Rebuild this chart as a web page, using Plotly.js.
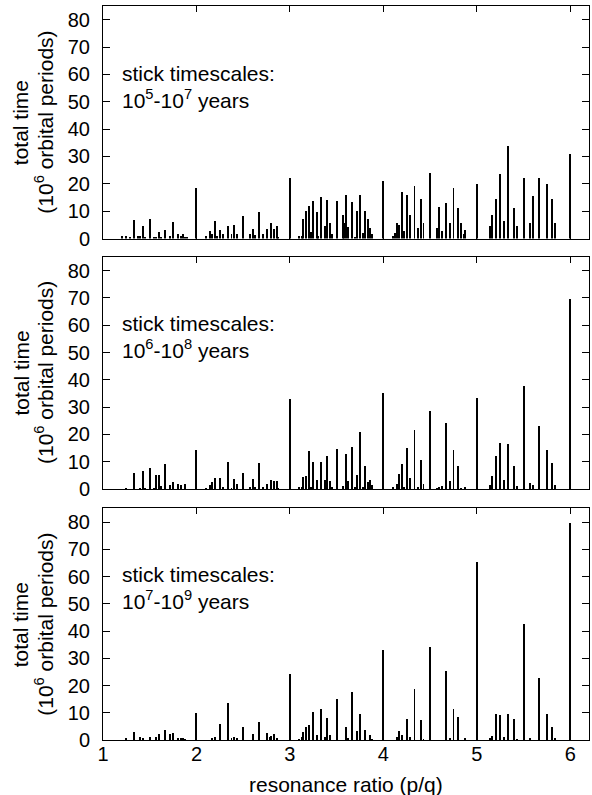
<!DOCTYPE html>
<html>
<head>
<meta charset="utf-8">
<script src="https://cdn.plot.ly/plotly-3.0.1.min.js"></script>
<style>html,body{margin:0;padding:0;background:#fff;}#chart{width:592px;height:795px;}</style>
</head>
<body>
<div id="chart"></div>
<script>
// resonance ratios p/q (grouped by integer interval)
const ratios = [
  1.2, 1.25, 1.286, 1.333, 1.375, 1.4, 1.429, 1.45, 1.5, 1.545, 1.571, 1.6, 1.625, 1.667, 1.714, 1.75, 1.8, 1.833, 1.857, 1.875, 1.9,
  2, 2.1, 2.143, 2.167, 2.2, 2.222, 2.25, 2.286, 2.333, 2.375, 2.4, 2.429, 2.5, 2.571, 2.6, 2.625, 2.667, 2.714, 2.75, 2.786, 2.8, 2.833, 2.857, 2.875,
  3, 3.1, 3.125, 3.143, 3.167, 3.2, 3.222, 3.25, 3.286, 3.3, 3.333, 3.375, 3.4, 3.429, 3.45, 3.5, 3.571, 3.583, 3.6, 3.625, 3.667, 3.7, 3.714, 3.75, 3.778, 3.8, 3.833, 3.857, 3.875,
  4, 4.1, 4.125, 4.143, 4.167, 4.2, 4.222, 4.25, 4.286, 4.333, 4.375, 4.4, 4.429, 4.5, 4.571, 4.6, 4.625, 4.667, 4.714, 4.75, 4.8, 4.833, 4.857, 4.875,
  5, 5.143, 5.167, 5.2, 5.25, 5.286, 5.333, 5.4, 5.429, 5.5, 5.571, 5.6, 5.667, 5.75, 5.8, 5.833, 6
];
// total time (10^6 orbital periods), stick timescales 10^5-10^7 years
const timeA = [
  0.9, 1.0, 0.4, 6.7, 0.8, 1.0, 4.5, 0.6, 7.3, 0.4, 0.5, 2.4, 0.5, 3.3, 0.8, 5.9, 1.8, 0.9, 1.6, 0.6, 0.4,
  18.4, 0.8, 2.7, 1.8, 6.3, 1.0, 3.0, 1.6, 4.5, 1.5, 4.9, 1.6, 8.2, 1.8, 3.5, 1.2, 9.6, 1.5, 3.5, 0, 5.7, 3.5, 4.5, 0.6,
  22, 0.8, 1.0, 7.0, 10, 12, 2.4, 13.7, 9.6, 0.8, 15.1, 4.5, 14, 5.5, 1.6, 13.9, 8.5, 5.5, 15.9, 4.1, 13.4, 0.6, 10, 15.9, 2.0, 10, 7.0, 4.0, 1.8,
  21, 1.0, 2.0, 5.5, 5.0, 17, 2.7, 15.9, 8.5, 19.3, 4.0, 14.5, 5.5, 24.1, 3.9, 11.5, 2.8, 13, 5.6, 18.5, 11.1, 5.5, 1.8, 3.0,
  19.9, 4.5, 8.5, 14.5, 23.5, 6.5, 33.9, 11.2, 4.5, 22, 5.7, 15.6, 22.2, 20.1, 14.4, 5.5, 30.9
];
// stick timescales 10^6-10^8 years
const timeB = [
  0, 0.5, 0, 6.0, 0, 0.4, 6.7, 0.4, 7.7, 0.4, 5.0, 5.2, 1.1, 9.1, 1.6, 2.4, 2.0, 1.3, 0, 1.8, 0,
  14.3, 0.3, 1.6, 2.6, 4.0, 0, 4.0, 0.6, 9.9, 0.5, 3.8, 2.0, 5.7, 0.6, 3.8, 0.6, 9.5, 0.6, 2.0, 0, 3.3, 2.8, 2.9, 0.5,
  32.9, 0.6, 0.6, 4.3, 4.8, 13.9, 0.6, 9.9, 3.3, 0, 9.9, 3.3, 12.1, 2.9, 0.8, 14.5, 1.1, 0, 12.7, 2.9, 15.5, 0.6, 5.1, 20.7, 0.9, 8.5, 2.4, 3.3, 1.5,
  35, 0.6, 0, 1.8, 5.4, 9.1, 0.6, 14.9, 4.0, 21.6, 0.6, 10.6, 1.7, 28.7, 0.5, 0.9, 1.0, 24, 3.1, 14.1, 8.6, 0.4, 0, 0.7,
  33.2, 1.6, 4.7, 12, 16.9, 3.2, 16.6, 8.6, 1.2, 37.9, 2.3, 1.3, 23, 14.4, 9.7, 1.5, 69.5
];
// stick timescales 10^7-10^9 years
const timeC = [
  0, 0.9, 0, 2.9, 0, 1.2, 0.6, 0, 1.1, 0, 1.2, 2.2, 0, 3.7, 2.1, 2.6, 0.9, 0.9, 0.6, 0.5, 0,
  10, 0, 0, 0.9, 1.1, 0, 6.0, 0, 13.5, 0.6, 1.2, 0.7, 4.6, 0, 2.1, 0, 6.5, 0, 2.6, 1.1, 1.5, 2.1, 0.6, 0,
  24.4, 0.5, 1.1, 2.9, 4.9, 5.4, 0, 10.4, 1.7, 0, 11.5, 1.2, 8.0, 2.0, 0, 14.9, 0, 0, 4.9, 0.6, 17.7, 0, 3.4, 9.4, 0, 3.5, 0, 2.0, 0.5,
  33.2, 0, 0, 1.2, 3.4, 2.0, 0, 7.6, 1.0, 18.9, 0, 7.2, 0.5, 34.2, 0, 0, 0, 25.5, 0.9, 11.3, 8.3, 0, 0, 0.6,
  65.2, 0.6, 1.6, 9.4, 9.1, 1.0, 9.4, 7.6, 0.3, 42.7, 0.6, 0, 22.6, 9.4, 4.8, 0.6, 79.6
];
const panelLabels = [
  'stick timescales:<br>10<sup>5</sup>-10<sup>7</sup> years',
  'stick timescales:<br>10<sup>6</sup>-10<sup>8</sup> years',
  'stick timescales:<br>10<sup>7</sup>-10<sup>9</sup> years'
];
const xTicks = [1, 2, 3, 4, 5, 6];
const yTicks = [0, 10, 20, 30, 40, 50, 60, 70, 80];
const yTitle1 = 'total time';
const yTitle2 = '(10<sup>6</sup> orbital periods)';
const xTitle = 'resonance ratio (p/q)';

const FONT = 'Liberation Sans, Arial, Helvetica, sans-serif';
const series = [timeA, timeB, timeC];
const axSuffix = ['', '2', '3'];
const traces = series.map((vals, i) => ({
  type: 'bar', x: ratios, y: vals,
  xaxis: 'x' + axSuffix[i], yaxis: 'y' + axSuffix[i],
  width: 0.021, marker: {color: '#000', line: {width: 0}},
  hoverinfo: 'x+y', showlegend: false
}));

const domains = [[0.6832, 1], [0.342, 0.658], [0, 0.3154]];
const layout = {
  width: 592, height: 795,
  margin: {l: 103, r: 3, t: 6, b: 55},
  paper_bgcolor: '#fff', plot_bgcolor: '#fff',
  font: {family: FONT, size: 20, color: '#000'},
  bargap: 0, showlegend: false,
  annotations: []
};
const labelY = [0.890, 0.5497, 0.2071];
const titleY = [0.841, 0.5, 0.157];
for (let i = 0; i < 3; i++) {
  const s = axSuffix[i];
  layout['xaxis' + s] = {
    domain: [0, 1], anchor: 'y' + s, range: [1, 6.2],
    tickvals: xTicks, ticktext: xTicks.map(String),
    showticklabels: i === 2,
    ticks: 'inside', ticklen: 6, tickwidth: 1, tickcolor: '#000',
    showline: true, linecolor: '#000', linewidth: 1, mirror: 'ticks',
    showgrid: false, zeroline: false, fixedrange: true,
    ticklabelstandoff: -4,
    tickfont: {family: FONT, size: 20}
  };
  layout['yaxis' + s] = {
    domain: domains[i], anchor: 'x' + s, range: [0, 85],
    tickvals: yTicks, ticktext: yTicks.map(String),
    ticks: 'inside', ticklen: 7, tickwidth: 1, tickcolor: '#000',
    showline: true, linecolor: '#000', linewidth: 1, mirror: 'ticks',
    showgrid: false, zeroline: false, fixedrange: true,
    ticklabelstandoff: 8,
    tickfont: {family: FONT, size: 20}
  };
  layout.annotations.push({
    xref: 'paper', yref: 'paper', x: 0.036, y: labelY[i],
    xanchor: 'left', yanchor: 'middle', align: 'left', showarrow: false,
    text: panelLabels[i], font: {family: FONT, size: 21}
  });
  layout.annotations.push({
    xref: 'paper', yref: 'paper', x: (20.5 - 103) / 486, y: titleY[i],
    xanchor: 'center', yanchor: 'middle', textangle: -90, showarrow: false,
    text: yTitle1, font: {family: FONT, size: 21}
  });
  layout.annotations.push({
    xref: 'paper', yref: 'paper', x: (44 - 103) / 486, y: titleY[i],
    xanchor: 'center', yanchor: 'middle', textangle: -90, showarrow: false,
    text: yTitle2, font: {family: FONT, size: 21}
  });
}
layout.annotations.push({
  xref: 'paper', yref: 'paper', x: 0.5, y: -0.0613,
  xanchor: 'center', yanchor: 'middle', showarrow: false,
  text: xTitle, font: {family: FONT, size: 21}
});

Plotly.newPlot('chart', traces, layout, {staticPlot: true, displayModeBar: false});
</script>
</body>
</html>
